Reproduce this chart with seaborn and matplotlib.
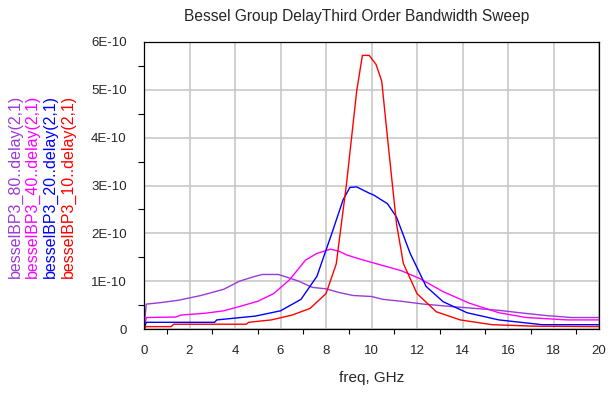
import numpy as np
import pandas as pd
import seaborn as sns
import matplotlib
matplotlib.use("Agg")
import matplotlib.pyplot as plt
from matplotlib.ticker import MultipleLocator, FuncFormatter

# Group delay traces, delay values in units of 1E-10 s, frequency in GHz
freq_80 = [0, 0.1, 0.7, 1.5, 2.5, 3.5, 4.2, 4.8, 5.2, 5.9, 6.3, 6.8, 7.4, 8.0, 8.6,
           9.2, 10.0, 10.5, 11.3, 12.3, 13.5, 15.6, 16.7, 17.7, 18.8, 20]
delay_80 = [0, 0.52, 0.55, 0.60, 0.70, 0.83, 1.00, 1.09, 1.14, 1.14, 1.08, 1.00, 0.87,
            0.84, 0.76, 0.70, 0.68, 0.62, 0.58, 0.52, 0.47, 0.39, 0.33, 0.28, 0.24, 0.24]

freq_40 = [0, 0.1, 1.4, 1.6, 2.7, 3.5, 4.2, 5.0, 5.7, 6.4, 7.1, 7.6, 8.2, 8.6, 8.9,
           9.5, 10.4, 11.3, 12.1, 13.15, 14.3, 15.6, 16.8, 18.6, 20]
delay_40 = [0, 0.24, 0.25, 0.29, 0.33, 0.38, 0.47, 0.58, 0.74, 1.03, 1.44, 1.58, 1.67,
            1.62, 1.55, 1.46, 1.34, 1.22, 1.06, 0.78, 0.54, 0.34, 0.24, 0.19, 0.19]

freq_20 = [0, 0.1, 3.1, 3.2, 4.9, 6.0, 6.9, 7.6, 8.3, 8.75, 9.05, 9.35, 9.9, 10.1,
           10.7, 11.1, 11.7, 12.4, 13.15, 14.2, 15.6, 17.5, 20]
delay_20 = [0, 0.14, 0.14, 0.19, 0.27, 0.38, 0.62, 1.10, 2.06, 2.70, 2.96, 2.97, 2.84,
            2.80, 2.62, 2.34, 1.58, 0.89, 0.57, 0.34, 0.19, 0.09, 0.09]

freq_10 = [0, 0.1, 1.2, 1.3, 4.5, 4.6, 5.6, 6.5, 7.3, 8.0, 8.45, 8.9, 9.35, 9.6, 9.9,
           10.2, 10.45, 10.67, 10.9, 11.1, 11.4, 12.0, 12.85, 13.9, 15.3, 17.1, 20]
delay_10 = [0, 0.05, 0.05, 0.10, 0.10, 0.14, 0.19, 0.29, 0.43, 0.74, 1.36, 3.03, 4.98,
            5.72, 5.72, 5.53, 5.18, 4.15, 3.10, 2.20, 1.37, 0.74, 0.36, 0.19, 0.09, 0.06, 0.05]

trace_names = ["besselBP3_80..delay(2,1)", "besselBP3_40..delay(2,1)",
               "besselBP3_20..delay(2,1)", "besselBP3_10..delay(2,1)"]
trace_colors = ["#9B3BD3", "#FF00FF", "#0000FF", "#FF0000"]
UNIT = 1e-10

frames = []
for name, f, d in zip(trace_names,
                      [freq_80, freq_40, freq_20, freq_10],
                      [delay_80, delay_40, delay_20, delay_10]):
    frames.append(pd.DataFrame({"freq": f, "delay": np.array(d) * UNIT, "trace": name}))
df = pd.concat(frames, ignore_index=True)

sns.set_style("white")
plt.rcParams["font.family"] = ["Liberation Sans", "DejaVu Sans"]

fig = plt.figure(figsize=(6.13, 3.94), dpi=100)
W, H = 613, 394
ax = fig.add_axes([144 / W, 1 - 329 / H, (599 - 144) / W, (329 - 42) / H])

sns.lineplot(data=df, x="freq", y="delay", hue="trace", palette=trace_colors,
             estimator=None, sort=False, linewidth=1.0, legend=False, ax=ax)

ax.set_xlim(0, 20)
ax.set_ylim(0, 6 * UNIT)
ax.xaxis.set_major_locator(MultipleLocator(2))
ax.xaxis.set_minor_locator(MultipleLocator(1))
ax.yaxis.set_major_locator(MultipleLocator(UNIT))
ax.yaxis.set_minor_locator(MultipleLocator(UNIT / 2))
ax.yaxis.set_major_formatter(FuncFormatter(
    lambda v, p: "0" if abs(v) < UNIT / 100 else f"{v / UNIT:.0f}E-10"))
ax.yaxis.offsetText.set_visible(False)
ax.grid(True, which="major", color="#c8c8c8", linewidth=1.2)
ax.set_axisbelow(True)
for s in ax.spines.values():
    s.set_color("black")
    s.set_linewidth(0.9)
ax.tick_params(axis="both", which="major", direction="out", color="black",
               labelsize=9.5, width=0.8)
ax.tick_params(axis="x", which="major", length=7.5, pad=4)
ax.tick_params(axis="y", which="major", length=9.5, pad=3)
ax.tick_params(axis="x", which="minor", direction="out", length=3.5, width=0.8,
               color="black", bottom=True)
ax.tick_params(axis="y", which="minor", direction="out", length=4.5, width=0.8,
               color="black", left=True)
ax.set_xlabel("freq, GHz", fontsize=11, labelpad=10)
ax.set_ylabel("")

fig.text(357 / W, 1 - 17 / H, "Bessel Group DelayThird Order Bandwidth Sweep",
         ha="center", va="center", fontsize=11.2)

# stacked colored trace labels on the left
for i, (name, col) in enumerate(zip(trace_names, trace_colors)):
    fig.text((15 + 17.7 * i) / W, 1 - 186 / H, name, rotation=90, color=col,
             ha="center", va="center", fontsize=11.5)

fig.savefig("out.png", dpi=100)
